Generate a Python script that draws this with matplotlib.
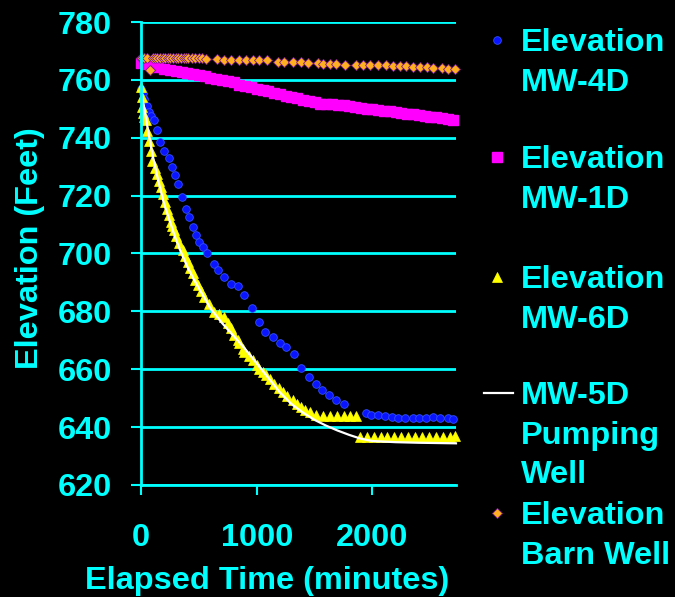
import matplotlib
matplotlib.use("Agg")
import matplotlib.pyplot as plt
from matplotlib.lines import Line2D

# ---- data (elapsed minutes, elevation in feet) ----
mw4d_t = [0, 15, 30, 50, 70, 90, 113, 142, 165, 200, 238, 267, 293, 321, 353, 388,
          417, 446, 475, 503, 538, 567, 633, 662, 720, 778, 835, 893, 960, 1023,
          1075, 1139, 1197, 1255, 1321, 1385, 1448, 1509, 1567, 1624, 1688, 1751,
          1942, 1991, 2049, 2107, 2165, 2222, 2280, 2347, 2405, 2462, 2526, 2584,
          2655, 2698]
mw4d_z = [757, 755.5, 753.5, 751, 749, 747.5, 746, 742.6, 738.5, 735.4, 733, 730,
          727, 724, 719.5, 715.5, 712.6, 709, 706.3, 704, 702.3, 700, 696.3, 694.4,
          691.9, 689.4, 688.8, 685.8, 681, 676.3, 672.9, 671.2, 669.2, 667.6, 665.4,
          660.6, 657.3, 654.8, 652.7, 651.2, 649.3, 648.1, 644.9, 644.1, 644.1,
          643.8, 643.5, 643.2, 643.2, 643.2, 643.2, 643.2, 643.5, 643.2, 643.0, 642.9]

mw1d_t = [0, 50, 100, 150, 200, 250, 300, 350, 400, 450, 500, 550, 600, 650, 700,
          750, 800, 850, 900, 950, 1000, 1050, 1100, 1150, 1200, 1250, 1300, 1350,
          1400, 1450, 1500, 1550, 1600, 1650, 1700, 1750, 1800, 1850, 1900, 1950,
          2000, 2050, 2100, 2150, 2200, 2250, 2300, 2350, 2400, 2450, 2500, 2550,
          2600, 2650, 2700]
mw1d_z = [765.8, 765.5, 765.0, 764.4, 763.9, 763.5, 763.1, 762.7, 762.3, 762.0,
          761.6, 761.2, 760.8, 760.4, 760.0, 759.6, 759.2, 758.2, 757.8, 757.4,
          757.0, 756.5, 756.0, 755.5, 755.0, 754.6, 754.1, 753.6, 753.1, 752.6,
          752.2, 751.8, 751.6, 751.5, 751.4, 751.2, 750.9, 750.7, 750.4, 750.1,
          749.9, 749.6, 749.4, 749.1, 748.9, 748.6, 748.3, 748.1, 747.8, 747.6,
          747.3, 747.1, 746.8, 746.5, 746.2]

mw6d_t = [0, 6, 12, 20, 30, 41, 55, 70, 85, 99, 120, 142, 157, 171, 190, 209, 228,
          243, 258, 272, 287, 305, 330, 359, 380, 402, 425, 446, 468, 489, 518, 547,
          590, 633, 675, 720, 750, 778, 805, 835, 850, 879, 893, 930, 965, 1000,
          1023, 1050, 1081, 1115, 1153, 1190, 1225, 1265, 1312, 1350, 1385, 1420,
          1457, 1515, 1570, 1630, 1690, 1750, 1810, 1861, 1890, 1950, 2010, 2070,
          2130, 2190, 2250, 2310, 2370, 2430, 2490, 2550, 2610, 2670, 2712]
mw6d_z = [757.5, 754, 750.6, 748.5, 747, 746, 742.5, 739, 735.5, 732, 729.5, 727.6,
          725, 723, 720.5, 717.8, 715.5, 713.2, 710.9, 709.5, 708, 706, 703.5, 701.1,
          699, 697.1, 695, 693.1, 691, 689, 687, 685, 682.5, 679.8, 679, 678.1, 676,
          674.1, 672, 670, 668.9, 667.1, 666, 664.5, 663.1, 661.4, 660.2, 659, 657.9,
          656.5, 655, 653.5, 652.1, 650.7, 649.3, 648, 647, 646, 645.2, 644.1, 643.8,
          643.8, 643.8, 643.8, 643.8, 643.8, 636.6, 636.6, 636.6, 636.6, 636.6,
          636.6, 636.6, 636.6, 636.6, 636.6, 636.6, 636.6, 636.6, 636.6, 636.8]

mw5d_t = [0, 20, 50, 100, 150, 200, 250, 300, 350, 400, 450, 500, 600, 700, 800,
          900, 1000, 1100, 1200, 1300, 1400, 1500, 1600, 1700, 1800, 1900, 2000,
          2200, 2400, 2722]
mw5d_z = [757, 752, 745, 734, 725, 717, 711, 705, 700, 695.5, 691.5, 688, 681, 676,
          671.5, 667, 662, 657, 652, 648, 645, 642.5, 640.5, 638.8, 637.3, 636,
          635.2, 634.8, 634.6, 634.4]

barn_t = [0, 10, 25, 50, 76, 100, 120, 140, 165, 190, 210, 230, 250, 275, 300, 320,
          345, 370, 390, 410, 440, 470, 500, 530, 561, 654, 720, 778, 850, 908, 966,
          1023, 1087, 1182, 1240, 1312, 1385, 1442, 1529, 1572, 1630, 1688, 1760,
          1861, 1919, 1977, 2049, 2121, 2179, 2237, 2294, 2352, 2410, 2468, 2525,
          2598, 2655, 2713]
barn_z = [767.5, 767.5, 767.5, 767.5, 763.3, 767.5, 767.5, 767.5, 767.5, 767.5,
          767.5, 767.5, 767.5, 767.5, 767.5, 767.5, 767.5, 767.5, 767.5, 767.5,
          767.5, 767.5, 767.5, 767.4, 767.35, 767.35, 767.0, 767.0, 767.0, 767.0,
          767.0, 767.0, 766.8, 766.2, 766.2, 766.2, 766.2, 766.0, 766.0, 765.6,
          765.6, 765.6, 765.3, 765.3, 765.3, 765.0, 765.0, 765.0, 764.8, 764.8,
          764.8, 764.5, 764.5, 764.5, 764.2, 764.1, 763.65, 763.65]

legend_labels = ["Elevation\nMW-4D", "Elevation\nMW-1D", "Elevation\nMW-6D",
                 "MW-5D\nPumping\nWell", "Elevation\nBarn Well"]

# ---- style ----
CYAN = "#00FFFF"
FONT = "Liberation Sans"
FS = 23.4
plt.rcParams["font.family"] = [FONT, "DejaVu Sans"]
plt.rcParams["font.weight"] = "bold"

fig = plt.figure(figsize=(6.75, 5.97), dpi=100, facecolor="black")
ax = fig.add_axes([141 / 675, 1 - 485 / 597, 315 / 675, 463 / 597])
ax.set_facecolor("black")

blue = dict(ls="none", marker="o", ms=5.5, mfc="#0a14ff", mec="#3050ff", mew=0.6)
pink = dict(ls="none", marker="s", ms=6.5, mfc="#FF00FF", mec="#FF00FF")
yell = dict(ls="none", marker="^", ms=7.5, mfc="#FFFF00", mec="#FFFF00", mew=0.5)
white = dict(color="white", lw=1.6)
barn = dict(ls="none", marker="D", ms=5.2, mfc="#FFB020", mec="#7a1a8a", mew=0.6)

ax.plot(mw4d_t, mw4d_z, clip_on=False, **blue)
ax.plot(mw1d_t, mw1d_z, clip_on=False, **pink)
ax.plot(mw6d_t, mw6d_z, clip_on=False, **yell)
ax.plot(mw5d_t, mw5d_z, clip_on=False, **white)
ax.plot(barn_t, barn_z, clip_on=False, **barn)

ax.set_xlim(0, 2722)
ax.set_ylim(620, 780)
ax.set_xticks([0, 1000, 2000])
ax.set_yticks(range(620, 781, 20))
ax.yaxis.grid(True, color=CYAN, lw=2)
ax.set_axisbelow(True)
for side in ("top", "right"):
    ax.spines[side].set_visible(False)
for side in ("left", "bottom"):
    ax.spines[side].set_color(CYAN)
    ax.spines[side].set_linewidth(2)
ax.tick_params(axis="y", colors=CYAN, length=7, width=1.5, pad=14, labelsize=FS)
ax.tick_params(axis="x", colors=CYAN, length=7, width=1.5, pad=20, labelsize=FS)
for lab in ax.get_xticklabels() + ax.get_yticklabels():
    lab.set_fontweight("bold")

ax.set_xlabel("Elapsed Time (minutes)", color=CYAN, fontsize=FS, fontweight="bold")
ax.set_ylabel("Elevation (Feet)", color=CYAN, fontsize=FS, fontweight="bold")
ax.xaxis.set_label_coords(0.4, -0.175)
ax.yaxis.set_label_coords(-0.305, 0.512)

# ---- legend, built by hand so the marker sits on the first text line ----
handles = [blue, pink, yell, white, barn]
entry_y = [40, 157, 277, 393, 513]   # pixel centre of first line
for lab, hk, yc in zip(legend_labels, handles, entry_y):
    yf = 1 - yc / 597
    xs = [484 / 675, 513 / 675] if "lw" in hk else [497 / 675]
    fig.add_artist(Line2D(xs, [yf] * len(xs), transform=fig.transFigure, **hk))
    fig.text(521 / 675, 1 - (yc - 12) / 597, lab, color=CYAN, fontsize=FS,
             fontweight="bold", va="top", ha="left", linespacing=1.42)

fig.savefig("out.png", dpi=100, facecolor="black")
